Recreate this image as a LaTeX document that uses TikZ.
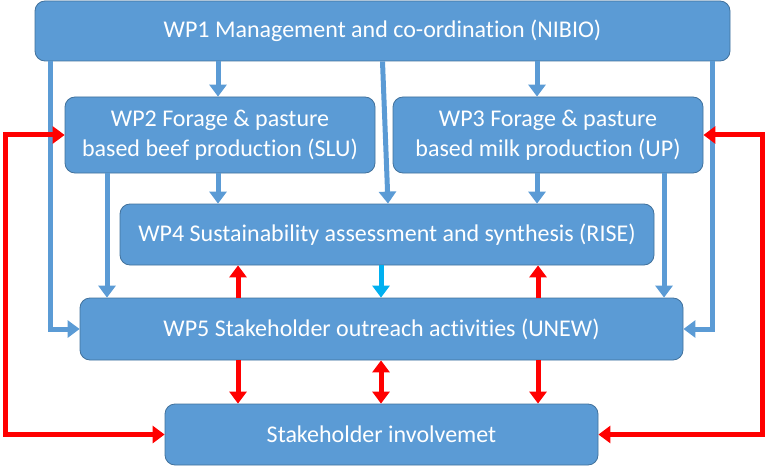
\documentclass[tikz,border=0pt]{standalone}
\usepackage{fontspec}
\setmainfont{Carlito}[Ligatures=NoCommon]
\usepackage{xcolor}
\usetikzlibrary{arrows.meta,calc}
\definecolor{wpblue}{HTML}{5B9BD5}
\definecolor{wpedge}{HTML}{41719C}
\definecolor{wpcyan}{HTML}{00B0F0}

\begin{document}
\begin{tikzpicture}[x=1pt,y=-1pt,
		wp/.style={draw=wpedge, line width=0.8pt, fill=wpblue, rounded corners=10pt,
			text=white, align=center, inner sep=0pt,
			font=\fontsize{24}{30}\selectfont},
		bluearr/.style={draw=wpblue, line width=5pt,
			-{Triangle[length=12pt,width=17pt]}},
		redarr/.style={draw=red, line width=5pt,
			-{Triangle[length=12pt,width=17pt]}}]
		\useasboundingbox (0,0) rectangle (768,468);
		% boxes
		\node[wp, minimum width=695pt, minimum height=60pt] (wp1) at (382.5,31)
			{WP1 Management and co-ordination (NIBIO)};
		\node[wp, minimum width=310pt, minimum height=76pt] (wp2) at (220,135)
			{WP2 Forage \& pasture\\based beef production (SLU)};
		\node[wp, minimum width=310pt, minimum height=76pt] (wp3) at (548,135)
			{WP3 Forage \& pasture\\based milk production (UP)};
		\node[wp, minimum width=534pt, minimum height=61pt] (wp4) at (387,234.5)
			{WP4 Sustainability assessment and synthesis (RISE)};
		\node[wp, minimum width=603pt, minimum height=62pt] (wp5) at (381.5,329)
			{WP5 Stakeholder outreach activities (UNEW)};
		\node[wp, minimum width=433pt, minimum height=61pt] (stake) at (381.5,434.5)
			{Stakeholder involvemet};
		% columns
		\coordinate (xl) at (50,0);
		\coordinate (xb) at (107,0);
		\coordinate (xa) at (218,0);
		\coordinate (xc) at (537,0);
		\coordinate (xd) at (664,0);
		\coordinate (xr) at (712,0);
		\coordinate (ra) at (238,0);
		\coordinate (rm) at (381,0);
		\coordinate (rc) at (538,0);
		\coordinate (ll) at (5,0);
		\coordinate (rr) at (762,0);
		% WP1 down
		\draw[bluearr] (wp1.south -| xa) -- (wp2.north -| xa);
		\draw[bluearr] (wp1.south -| xc) -- (wp3.north -| xc);
		\draw[bluearr] (wp1.south) -- ([xshift=1pt]wp4.north);
		\draw[bluearr] (wp1.south -| xl) |- (wp5.west);
		\draw[bluearr] (wp1.south -| xr) |- (wp5.east);
		% WP2, WP3 down
		\draw[bluearr] (wp2.south -| xa) -- (wp4.north -| xa);
		\draw[bluearr] (wp3.south -| xc) -- (wp4.north -| xc);
		\draw[bluearr] (wp2.south -| xb) -- (wp5.north -| xb);
		\draw[bluearr] (wp3.south -| xd) -- (wp5.north -| xd);
		% WP4 <-> WP5
		\draw[redarr] (wp5.north -| ra) -- (wp4.south -| ra);
		\draw[redarr] (wp5.north -| rc) -- (wp4.south -| rc);
		\draw[bluearr, draw=wpcyan] (wp4.south -| rm) -- (wp5.north -| rm);
		% WP5 -> stakeholders
		\draw[redarr] (wp5.south -| ra) -- (stake.north -| ra);
		\draw[redarr] (wp5.south -| rc) -- (stake.north -| rc);
		\draw[redarr, {Triangle[length=12pt,width=17pt]}-{Triangle[length=12pt,width=17pt]}]
			(wp5.south -| rm) -- (stake.north -| rm);
		% outer loops
		\draw[redarr, {Triangle[length=12pt,width=17pt]}-{Triangle[length=12pt,width=17pt]}]
			(wp2.west) -- (wp2.west -| ll) |- (stake.west);
		\draw[redarr, {Triangle[length=12pt,width=17pt]}-{Triangle[length=12pt,width=17pt]}]
			(wp3.east) -- (wp3.east -| rr) |- (stake.east);
	\end{tikzpicture}
\end{document}
